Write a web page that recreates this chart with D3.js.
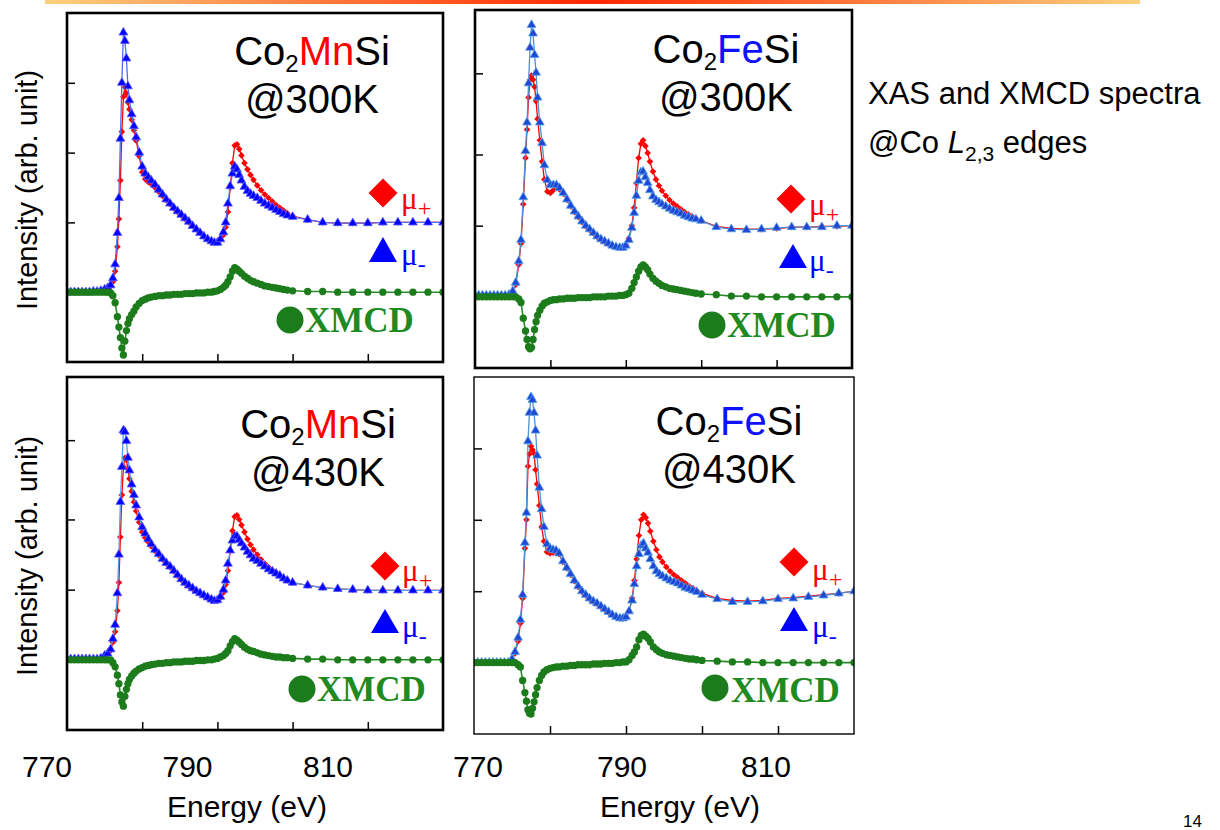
<!DOCTYPE html>
<html>
<head>
<meta charset="utf-8">
<script src="https://cdn.jsdelivr.net/npm/d3@7"></script>
<style>
  html, body { margin: 0; padding: 0; background: #fff; }
  svg { display: block; }
</style>
</head>
<body>
<svg id="fig" width="1220" height="830"></svg>
<script>
// Photon energy grid (eV), shared by all spectra
const energy = [
  770, 770.5, 771, 771.5, 772, 772.5, 773, 773.5, 774, 774.5, 775,
  775.4, 775.8, 776.1, 776.4, 776.7, 776.9, 777.1, 777.3, 777.5, 777.7,
  777.9, 778.1, 778.3, 778.6, 778.9, 779.2, 779.6, 780,
  780.4, 780.8, 781.2, 781.7, 782.2, 782.7, 783.2, 783.7, 784.2, 784.7,
  785.2, 785.7, 786.2, 786.7, 787.2, 787.7, 788.2, 788.7, 789.2, 789.6,
  790, 790.4, 790.8, 791.1, 791.4, 791.7, 792, 792.3, 792.6, 792.9,
  793.2, 793.6, 794, 794.4, 794.8, 795.3, 795.8, 796.3, 796.8, 797.3,
  797.8, 798.3, 798.8, 799.3, 800,
  802, 804, 806, 808, 810, 812, 814, 816, 818, 820
];

// Co2MnSi @300K
const mnPlus300 = [
  0, 0, 0, 0, 0, 0, 0, 0.01, 0.01, 0.02, 0.03,
  0.05, 0.08, 0.15, 0.3, 0.65, 1.05, 1.6, 2.3, 2.8, 2.94,
  2.85, 2.72, 2.62, 2.47, 2.32, 2.17, 1.95, 1.72,
  1.62, 1.58, 1.55, 1.5, 1.44, 1.38, 1.32, 1.26, 1.2, 1.15,
  1.1, 1.05, 1.0, 0.95, 0.9, 0.85, 0.8, 0.76, 0.73, 0.72,
  0.72, 0.75, 0.82, 0.93, 1.15, 1.5, 1.85, 2.1, 2.12, 2.05,
  1.96, 1.85, 1.76, 1.68, 1.61, 1.53, 1.46, 1.4, 1.35, 1.3,
  1.25, 1.21, 1.17, 1.13, 1.09,
  1.04, 1.0, 0.99, 0.99, 0.99, 1.0, 1.0, 1.0, 1.0, 1.0
];
const mnMinus300 = [
  0, 0, 0, 0, 0, 0, 0, 0.01, 0.01, 0.02, 0.04,
  0.06, 0.1, 0.2, 0.4, 0.85, 1.35, 2.2, 3.0, 3.72, 3.6,
  3.35, 2.95, 2.75, 2.55, 2.38, 2.22, 2.0, 1.8,
  1.7, 1.65, 1.6, 1.54, 1.47, 1.4, 1.33, 1.27, 1.21, 1.16,
  1.11, 1.06, 1.01, 0.95, 0.9, 0.85, 0.8, 0.76, 0.73, 0.71,
  0.71, 0.76, 0.86, 1.0, 1.27, 1.52, 1.7, 1.8, 1.76, 1.68,
  1.6, 1.51, 1.45, 1.41, 1.38, 1.35, 1.31, 1.27, 1.24, 1.21,
  1.18, 1.15, 1.12, 1.1, 1.08,
  1.04, 1.0, 0.99, 0.99, 0.99, 1.0, 1.0, 1.0, 1.0, 1.0
];
const mnXmcd300 = [
  0, 0, 0, 0, 0, 0, 0, 0, 0, 0, 0,
  0, -0.01, -0.05, -0.15, -0.35, -0.5, -0.65, -0.8, -0.9, -0.7,
  -0.55, -0.45, -0.38, -0.32, -0.27, -0.21, -0.16, -0.12,
  -0.1, -0.08, -0.07, -0.06, -0.05, -0.05, -0.04, -0.04, -0.03, -0.03,
  -0.03, -0.02, -0.02, -0.02, -0.01, -0.01, -0.01, 0, 0, 0.01,
  0.02, 0.04, 0.07, 0.1, 0.15, 0.22, 0.3, 0.35, 0.33, 0.3,
  0.27, 0.23, 0.2, 0.17, 0.15, 0.13, 0.11, 0.09, 0.08, 0.07,
  0.06, 0.05, 0.04, 0.03, 0.02,
  0.01, 0.01, 0, 0, 0, 0, 0, 0, 0, 0
];

// Co2FeSi @300K
const fePlus300 = [
  0.02, 0.02, 0.02, 0.02, 0.02, 0.02, 0.02, 0.02, 0.02, 0.03, 0.07,
  0.17, 0.45, 0.75, 1.3, 1.95, 2.35, 2.8, 3.05, 3.11, 3.05,
  2.95, 2.75, 2.5, 2.2, 1.9, 1.65, 1.48, 1.46,
  1.5, 1.53, 1.51, 1.45, 1.36, 1.27, 1.19, 1.12, 1.05, 0.99,
  0.94, 0.89, 0.84, 0.8, 0.77, 0.74, 0.72, 0.7, 0.69, 0.7,
  0.73, 0.82, 1.0, 1.25, 1.6, 1.95, 2.15, 2.2, 2.12, 2.02,
  1.9, 1.76, 1.65, 1.56, 1.49, 1.42, 1.36, 1.31, 1.27, 1.23,
  1.19, 1.16, 1.13, 1.1, 1.07,
  0.99, 0.96, 0.95, 0.95, 0.96, 0.98, 0.98, 0.99, 0.99, 1.0
];
const feMinus300 = [
  0.02, 0.02, 0.02, 0.02, 0.02, 0.02, 0.02, 0.02, 0.02, 0.03, 0.08,
  0.2, 0.5, 0.8, 1.4, 2.05, 2.45, 3.0, 3.5, 3.82, 3.7,
  3.4, 3.15, 2.8, 2.45, 2.16, 1.85, 1.64, 1.57,
  1.57, 1.57, 1.53, 1.46, 1.37, 1.28, 1.2, 1.13, 1.06, 1.0,
  0.95, 0.9, 0.85, 0.81, 0.78, 0.75, 0.72, 0.7, 0.69, 0.69,
  0.72, 0.8, 0.97, 1.18, 1.42, 1.63, 1.75, 1.76, 1.68, 1.6,
  1.5, 1.41, 1.36, 1.33, 1.3, 1.27, 1.24, 1.21, 1.19, 1.17,
  1.14, 1.12, 1.1, 1.09, 1.07,
  0.98, 0.95, 0.94, 0.95, 0.97, 0.98, 0.98, 0.98, 1.0, 1.0
];
const feXmcd300 = [
  0, 0, 0, 0, 0, 0, 0, 0, 0, 0, 0,
  0, -0.03, -0.08, -0.3, -0.48, -0.6, -0.7, -0.73, -0.71, -0.6,
  -0.46, -0.35, -0.26, -0.19, -0.13, -0.09, -0.07, -0.05,
  -0.04, -0.04, -0.03, -0.03, -0.02, -0.02, -0.02, -0.01, -0.01, -0.01,
  -0.01, 0, 0, 0, 0, 0.01, 0.01, 0.01, 0.02, 0.02,
  0.03, 0.05, 0.12, 0.2, 0.28, 0.36, 0.42, 0.45, 0.42, 0.38,
  0.32, 0.26, 0.22, 0.19, 0.16, 0.14, 0.12, 0.11, 0.1, 0.09,
  0.08, 0.07, 0.06, 0.05, 0.04,
  0.03, 0.01, 0.01, 0, 0, 0, 0, 0, 0, 0
];

// Co2MnSi @430K
const mnPlus430 = [
  0.01, 0.01, 0.01, 0.01, 0.01, 0.01, 0.01, 0.01, 0.01, 0.02, 0.05,
  0.08, 0.13, 0.25, 0.4, 0.7, 1.1, 1.75, 2.35, 2.75, 2.88,
  2.85, 2.72, 2.58, 2.4, 2.25, 2.12, 1.96, 1.82,
  1.74, 1.68, 1.62, 1.55, 1.49, 1.43, 1.37, 1.32, 1.26, 1.2,
  1.14, 1.09, 1.05, 1.01, 0.97, 0.94, 0.91, 0.88, 0.86, 0.84,
  0.85, 0.88, 0.96, 1.07, 1.27, 1.55, 1.84, 2.04, 2.06, 2.0,
  1.92, 1.82, 1.72, 1.64, 1.57, 1.5, 1.43, 1.37, 1.32, 1.28,
  1.24, 1.2, 1.16, 1.13, 1.1,
  1.06, 1.03, 1.01, 1.0, 0.99, 0.99, 0.99, 0.99, 0.99, 0.99
];
const mnMinus430 = [
  0.01, 0.01, 0.01, 0.01, 0.01, 0.01, 0.01, 0.01, 0.01, 0.02, 0.06,
  0.09, 0.15, 0.3, 0.5, 0.95, 1.5, 2.25, 2.75, 3.27, 3.25,
  3.12, 2.88, 2.7, 2.5, 2.35, 2.2, 2.03, 1.89,
  1.8, 1.72, 1.65, 1.57, 1.51, 1.44, 1.38, 1.33, 1.27, 1.21,
  1.15, 1.1, 1.06, 1.02, 0.98, 0.95, 0.92, 0.89, 0.86, 0.84,
  0.85, 0.9, 1.0, 1.13, 1.37, 1.56, 1.7, 1.76, 1.76, 1.71,
  1.66, 1.6, 1.54, 1.49, 1.44, 1.41, 1.37, 1.33, 1.29, 1.26,
  1.23, 1.2, 1.16, 1.13, 1.1,
  1.06, 1.03, 1.01, 1.0, 0.99, 0.99, 0.99, 0.99, 0.99, 0.99
];
const mnXmcd430 = [
  0, 0, 0, 0, 0, 0, 0, 0, 0, 0, 0,
  0, 0, -0.04, -0.1, -0.22, -0.34, -0.5, -0.6, -0.66, -0.52,
  -0.42, -0.34, -0.28, -0.23, -0.19, -0.16, -0.13, -0.11,
  -0.09, -0.08, -0.07, -0.06, -0.05, -0.05, -0.04, -0.04, -0.03, -0.03,
  -0.03, -0.02, -0.02, -0.02, -0.01, -0.01, -0.01, 0, 0, 0.01,
  0.02, 0.04, 0.06, 0.09, 0.13, 0.2, 0.26, 0.3, 0.28, 0.25,
  0.22, 0.18, 0.15, 0.13, 0.12, 0.1, 0.08, 0.07, 0.06, 0.05,
  0.04, 0.04, 0.03, 0.03, 0.02,
  0.01, 0.01, 0, 0, 0, 0, 0, 0, 0, 0
];

// Co2FeSi @430K
const fePlus430 = [
  0, 0, 0, 0, 0, 0, 0, 0, 0, 0, 0.04,
  0.13, 0.3, 0.55, 0.9, 1.6, 2.0, 2.75, 2.92, 3.03, 2.98,
  2.93, 2.7, 2.5, 2.2, 1.9, 1.7, 1.55, 1.53,
  1.54, 1.55, 1.52, 1.41, 1.32, 1.23, 1.14, 1.06, 0.99, 0.94,
  0.89, 0.85, 0.82, 0.78, 0.74, 0.7, 0.67, 0.64, 0.62, 0.62,
  0.64, 0.72, 0.9, 1.15, 1.45, 1.78, 2.0, 2.07, 2.03, 1.95,
  1.84, 1.7, 1.58, 1.48, 1.41, 1.34, 1.28, 1.23, 1.19, 1.15,
  1.11, 1.07, 1.04, 1.01, 0.97,
  0.9, 0.87, 0.86, 0.87, 0.9, 0.91, 0.93, 0.95, 0.97, 1.0
];
const feMinus430 = [
  0, 0, 0, 0, 0, 0, 0, 0, 0, 0, 0.05,
  0.15, 0.35, 0.6, 0.95, 1.68, 2.1, 3.1, 3.5, 3.72, 3.68,
  3.5, 3.25, 2.9, 2.45, 2.15, 1.9, 1.66, 1.6,
  1.58, 1.57, 1.53, 1.42, 1.33, 1.24, 1.15, 1.07, 1.0, 0.95,
  0.9, 0.86, 0.83, 0.79, 0.75, 0.71, 0.67, 0.64, 0.62, 0.62,
  0.64, 0.72, 0.87, 1.1, 1.35, 1.52, 1.64, 1.67, 1.6, 1.54,
  1.45, 1.35, 1.28, 1.24, 1.21, 1.18, 1.15, 1.13, 1.11, 1.08,
  1.05, 1.03, 1.01, 0.99, 0.95,
  0.89, 0.85, 0.85, 0.86, 0.89, 0.9, 0.92, 0.94, 0.97, 1.0
];
const feXmcd430 = [
  0, 0, 0, 0, 0, 0, 0, 0, 0, 0, 0,
  0, -0.03, -0.06, -0.25, -0.42, -0.54, -0.66, -0.71, -0.72, -0.64,
  -0.55, -0.45, -0.35, -0.25, -0.18, -0.13, -0.1, -0.08,
  -0.07, -0.06, -0.06, -0.05, -0.05, -0.04, -0.04, -0.03, -0.03, -0.03,
  -0.03, -0.02, -0.02, -0.02, -0.01, -0.01, -0.01, 0, 0, 0.01,
  0.01, 0.04, 0.1, 0.15, 0.22, 0.32, 0.38, 0.4, 0.37, 0.34,
  0.29, 0.22, 0.18, 0.15, 0.13, 0.11, 0.1, 0.09, 0.08, 0.07,
  0.06, 0.05, 0.05, 0.04, 0.03,
  0.02, 0.01, 0.01, 0, 0, 0, 0, 0, 0, 0
];

// Axis ticks
const energyDomain = [770, 820];
const energyTicks = [780, 790, 800, 810];
const energyTickLabels = [770, 790, 810];
const intensityTicksMn300 = [1, 2, 3];
const intensityTicksFe300 = [1, 2, 3.14];
const intensityTicksMn430 = [1, 2, 3.13];
const intensityTicksFe430 = [1, 2, 3];

// Panel layout
const SANS = "'Liberation Sans', Arial, Helvetica, sans-serif";
const SERIF = "'Liberation Serif', 'Times New Roman', serif";
const RED = "#ff0000", BLUE = "#0000ff", GREEN = "#1c7c1c";

const panels = [
  { box: [67, 13, 443, 362], yDomain: [-1.0, 4.0], yTicks: intensityTicksMn300,
    plus: mnPlus300, minus: mnMinus300, xmcd: mnXmcd300,
    elem: "Mn", elemColor: RED, temp: "@300K", titleX: 312, titleY: [65, 112],
    triFill: "#0000ff", triStroke: "#5a5aff", triLine: "#4f6bff", frame: 2.6,
    leg: { dia: [383, 193], muP: [401, 209], tri: [383, 237, 262], muM: [401, 265], dot: [290, 320], txt: [305, 332] } },
  { box: [475, 10, 852, 368], yDomain: [-1.0, 4.03], yTicks: intensityTicksFe300,
    plus: fePlus300, minus: feMinus300, xmcd: feXmcd300,
    elem: "Fe", elemColor: "#1010ff", temp: "@300K", titleX: 726, titleY: [63, 110],
    triFill: "#1d47d4", triStroke: "#5aa2e6", triLine: "#4a92da", frame: 2.6,
    leg: { dia: [791, 199], muP: [809, 215], tri: [793, 244, 268], muM: [809, 271], dot: [712, 325], txt: [727, 337] } },
  { box: [67, 377, 443, 730], yDomain: [-1.0, 4.03], yTicks: intensityTicksMn430,
    plus: mnPlus430, minus: mnMinus430, xmcd: mnXmcd430,
    elem: "Mn", elemColor: RED, temp: "@430K", titleX: 318, titleY: [438, 485],
    triFill: "#0000ff", triStroke: "#5a5aff", triLine: "#4fa0e8", frame: 2.6,
    leg: { dia: [385, 566], muP: [402, 581], tri: [385, 609, 633], muM: [402, 637], dot: [302, 689], txt: [317, 701] } },
  { box: [474, 377, 854, 734], yDomain: [-1.0, 4.0], yTicks: intensityTicksFe430,
    plus: fePlus430, minus: feMinus430, xmcd: feXmcd430,
    elem: "Fe", elemColor: "#1010ff", temp: "@430K", titleX: 729, titleY: [435, 482],
    triFill: "#1d47d4", triStroke: "#5aa2e6", triLine: "#4a92da", frame: 1.4,
    leg: { dia: [794, 562], muP: [812, 580], tri: [794, 607, 631], muM: [812, 637], dot: [715, 688], txt: [731, 702] } }
];

const svg = d3.select("#fig");

// Slide rule across the top
const defs = svg.append("defs");
const grad = defs.append("linearGradient").attr("id", "rule").attr("x1", "0%").attr("x2", "100%");
grad.append("stop").attr("offset", "0%").attr("stop-color", "#fcd07e");
grad.append("stop").attr("offset", "50%").attr("stop-color", "#ff2600");
grad.append("stop").attr("offset", "100%").attr("stop-color", "#fcd07e");
svg.append("rect").attr("x", 45).attr("y", 0).attr("width", 1095).attr("height", 4).attr("fill", "url(#rule)");

function drawSeries(g, x, y, vals, opt) {
  const pts = energy.map((e, i) => ({ e, v: vals[i] }));
  g.append("path").datum(pts)
    .attr("d", d3.line().x(d => x(d.e)).y(d => y(d.v)))
    .attr("fill", "none").attr("stroke", opt.line).attr("stroke-width", opt.lw);
  g.append("g").selectAll("path").data(pts).join("path")
    .attr("transform", d => `translate(${x(d.e)},${y(d.v)})` + (opt.rotate ? " rotate(45)" : ""))
    .attr("d", d3.symbol(opt.type, opt.size))
    .attr("fill", opt.fill)
    .attr("stroke", opt.stroke || "none")
    .attr("stroke-width", opt.sw || 0);
}

function muLabel(parent, pos, sub, color) {
  const t = parent.append("text").attr("x", pos[0]).attr("y", pos[1])
    .attr("font-family", SERIF).attr("font-size", 31).attr("fill", color);
  t.append("tspan").text("\u03bc");
  t.append("tspan").attr("font-size", 24).attr("dy", 7).text(sub);
}

panels.forEach((p, k) => {
  const [x0, y0, x1, y1] = p.box;
  const x = d3.scaleLinear().domain(energyDomain).range([x0, x1]);
  const y = d3.scaleLinear().domain(p.yDomain).range([y1, y0]);
  const g = svg.append("g");

  defs.append("clipPath").attr("id", "clip" + k)
    .append("rect").attr("x", x0).attr("y", y0).attr("width", x1 - x0).attr("height", y1 - y0);

  // Inward ticks
  const ax = g.append("g").attr("transform", `translate(0,${y1})`)
    .call(d3.axisBottom(x).tickValues(energyTicks).tickSizeInner(-8).tickSizeOuter(0).tickFormat(""));
  const ay = g.append("g").attr("transform", `translate(${x0},0)`)
    .call(d3.axisLeft(y).tickValues(p.yTicks).tickSizeInner(-8).tickSizeOuter(0).tickFormat(""));
  [ax, ay].forEach(a => {
    a.select(".domain").remove();
    a.selectAll("line").attr("stroke", "#000").attr("stroke-width", 1.5);
  });

  // Spectra
  const data = g.append("g").attr("clip-path", `url(#clip${k})`);
  drawSeries(data, x, y, p.plus, { line: RED, lw: 1.3, type: d3.symbolSquare, size: 22, rotate: true, fill: RED });
  drawSeries(data, x, y, p.minus, { line: p.triLine, lw: 1.3, type: d3.symbolTriangle, size: 34, fill: p.triFill, stroke: p.triStroke, sw: 0.8 });
  drawSeries(data, x, y, p.xmcd, { line: "#2a8a2a", lw: 1.6, type: d3.symbolCircle, size: 42, fill: GREEN });

  // Frame
  g.append("rect").attr("x", x0).attr("y", y0).attr("width", x1 - x0).attr("height", y1 - y0)
    .attr("fill", "none").attr("stroke", "#000").attr("stroke-width", p.frame);

  // Title
  const t1 = g.append("text").attr("x", p.titleX).attr("y", p.titleY[0])
    .attr("text-anchor", "middle").attr("font-family", SANS).attr("font-size", 40).attr("fill", "#000");
  t1.append("tspan").text("Co");
  t1.append("tspan").attr("font-size", 24).attr("dy", 7).text("2");
  t1.append("tspan").attr("dy", -7).attr("fill", p.elemColor).text(p.elem);
  t1.append("tspan").text("Si");
  g.append("text").attr("x", p.titleX).attr("y", p.titleY[1] + 1)
    .attr("text-anchor", "middle").attr("font-family", SANS).attr("font-size", 40).attr("fill", "#000")
    .text(p.temp);

  // Legend
  const L = p.leg;
  const h = 14.5;
  g.append("path")
    .attr("d", `M${L.dia[0]},${L.dia[1] - h}L${L.dia[0] + h},${L.dia[1]}L${L.dia[0]},${L.dia[1] + h}L${L.dia[0] - h},${L.dia[1]}Z`)
    .attr("fill", RED);
  muLabel(g, L.muP, "+", RED);
  g.append("path")
    .attr("d", `M${L.tri[0]},${L.tri[1]}L${L.tri[0] + 14},${L.tri[2]}L${L.tri[0] - 14},${L.tri[2]}Z`)
    .attr("fill", BLUE);
  muLabel(g, L.muM, "-", BLUE);
  g.append("circle").attr("cx", L.dot[0]).attr("cy", L.dot[1]).attr("r", 13.5).attr("fill", GREEN);
  g.append("text").attr("x", L.txt[0]).attr("y", L.txt[1])
    .attr("font-family", SERIF).attr("font-weight", "bold").attr("font-size", 35).attr("fill", "#1f8a1f")
    .text("XMCD");
});

// Energy tick labels under the lower panels
const labelScales = [
  d3.scaleLinear().domain([770, 810]).range([47, 328]),
  d3.scaleLinear().domain([770, 810]).range([478, 766])
];
labelScales.forEach((s, i) => {
  svg.append("g").selectAll("text").data(energyTickLabels).join("text")
    .attr("x", d => s(d)).attr("y", 777)
    .attr("text-anchor", "middle").attr("font-family", SANS).attr("font-size", 30).attr("fill", "#000")
    .text(d => d);
  svg.append("text").attr("x", i === 0 ? 247 : 680).attr("y", 817)
    .attr("text-anchor", "middle").attr("font-family", SANS).attr("font-size", 30).attr("fill", "#000")
    .text("Energy (eV)");
});

// Intensity labels
[190, 556].forEach(cy => {
  svg.append("text").attr("transform", `translate(37,${cy}) rotate(-90)`)
    .attr("text-anchor", "middle").attr("font-family", SANS).attr("font-size", 29).attr("fill", "#000")
    .text("Intensity (arb. unit)");
});

// Side note
svg.append("text").attr("x", 868).attr("y", 104)
  .attr("font-family", SANS).attr("font-size", 31).attr("fill", "#000")
  .text("XAS and XMCD spectra");
const note = svg.append("text").attr("x", 868).attr("y", 153)
  .attr("font-family", SANS).attr("font-size", 31).attr("fill", "#000");
note.append("tspan").text("@Co ");
note.append("tspan").attr("font-style", "italic").text("L");
note.append("tspan").attr("font-size", 21).attr("dy", 8).text("2,3");
note.append("tspan").attr("dy", -8).text(" edges");

// Page number
svg.append("text").attr("x", 1202).attr("y", 827).attr("text-anchor", "end")
  .attr("font-family", SANS).attr("font-size", 17).attr("fill", "#000").text("14");
</script>
</body>
</html>
